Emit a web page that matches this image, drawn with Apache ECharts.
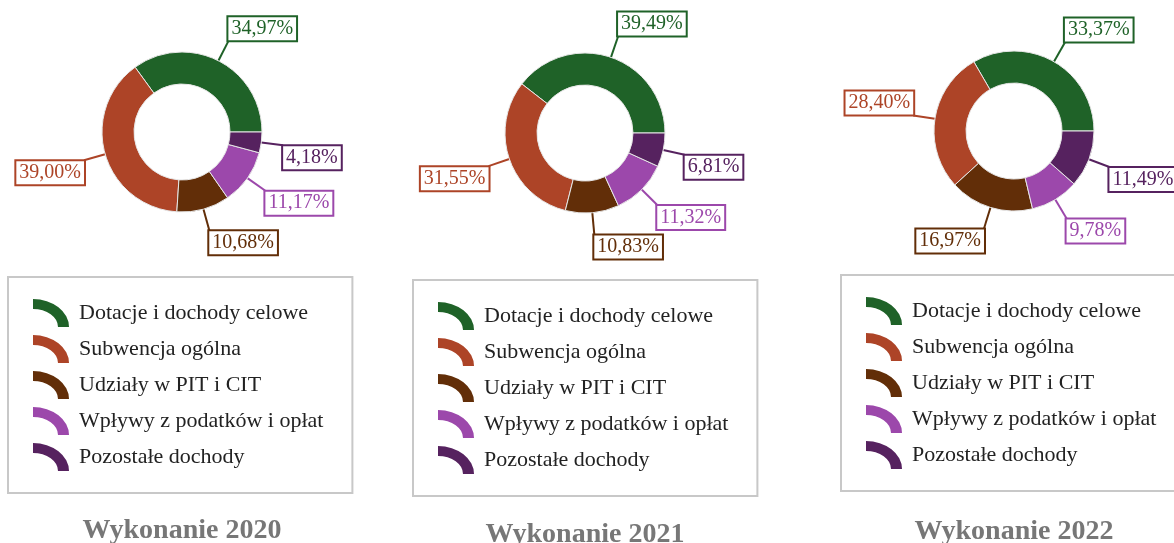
<!DOCTYPE html>
<html>
<head>
    <meta charset="UTF-8">
    <title>Struktura dochodów</title>
    <script src="https://cdn.jsdelivr.net/npm/echarts@6/dist/echarts.min.js"></script>
    <style>
        html, body { margin: 0; padding: 0; background: #fff; }
        #chart { width: 1174px; height: 543px; }
    </style>
</head>
<body>
    <div id="chart"></div>
    <script>
        const categories = ['Dotacje i dochody celowe', 'Subwencja ogólna', 'Udziały w PIT i CIT', 'Wpływy z podatków i opłat', 'Pozostałe dochody'];
        const colors = ['#1f6228', '#ad4427', '#622e08', '#9c48ab', '#56225f'];
        const years = ['Wykonanie 2020', 'Wykonanie 2021', 'Wykonanie 2022'];
        const share2020 = [34.97, 39.00, 10.68, 11.17, 4.18];
        const share2021 = [39.49, 31.55, 10.83, 11.32, 6.81];
        const share2022 = [33.37, 28.40, 16.97, 9.78, 11.49];
        const shares = [share2020, share2021, share2022];

        const centers = [[182, 132], [585, 133], [1014, 131]];
        const legendPos = [[8, 277], [413, 280], [841, 275]];
        const titleTop = [517, 521, 518];

        const font = '"Liberation Serif", "Times New Roman", serif';
        const arcIcon = 'path://M0,0 A36,28 0 0 1 36,28 L25,28 A25,18 0 0 0 0,10 Z';

        const fmt = v => v.toFixed(2).replace('.', ',') + '%';

        const chart = echarts.init(document.getElementById('chart'));

        // box hangs from the end of the line by its nearest corner
        function hangLabel(p) {
            const pts = p.labelLinePoints;
            if (!pts) return {};
            const up = pts[pts.length - 1][1] < pts[0][1];
            const h = p.labelRect.height;
            return { dy: up ? -h / 2 + 1 : h / 2 - 1 };
        }

        const series = shares.map((vals, i) => ({
            type: 'pie',
            center: centers[i],
            radius: [48, 80],
            startAngle: 0,
            clockwise: false,
            avoidLabelOverlap: false,
            itemStyle: { borderColor: '#e6e6e6', borderWidth: 1 },
            label: {
                show: true,
                position: 'outside',
                fontFamily: font,
                fontSize: 20,
                backgroundColor: '#fff',
                borderWidth: 2,
                padding: [2, 3, 1, 3],
                distanceToLabelLine: 0,
                formatter: p => fmt(p.value)
            },
            labelLine: { show: true, length: 22, length2: 0, lineStyle: { width: 2 } },
            labelLayout: hangLabel,
            emphasis: { disabled: true },
            data: vals.map((v, k) => ({
                name: categories[k],
                value: v,
                itemStyle: { color: colors[k] },
                label: { color: colors[k], borderColor: colors[k] },
                labelLine: { lineStyle: { color: colors[k] } }
            }))
        }));

        const legends = legendPos.map((p, i) => ({
            orient: 'vertical',
            left: p[0],
            top: p[1],
            data: categories,
            icon: arcIcon,
            itemWidth: 36,
            itemHeight: 28,
            itemGap: 8,
            padding: [22, 29, 22, 25],
            borderColor: '#c8c8c8',
            borderWidth: 2,
            selectedMode: false,
            itemStyle: { borderWidth: 0 },
            textStyle: { fontFamily: font, fontSize: 22, color: '#222', padding: [0, 0, 0, 5] }
        }));

        const titles = years.map((t, i) => ({
            text: t,
            left: centers[i][0],
            top: titleTop[i],
            padding: 0,
            textAlign: 'center',
            textStyle: { fontFamily: font, fontSize: 28, fontWeight: 'bold', color: '#777' }
        }));

        chart.setOption({
            animation: false,
            title: titles,
            legend: legends,
            series: series
        });
    </script>
</body>
</html>
